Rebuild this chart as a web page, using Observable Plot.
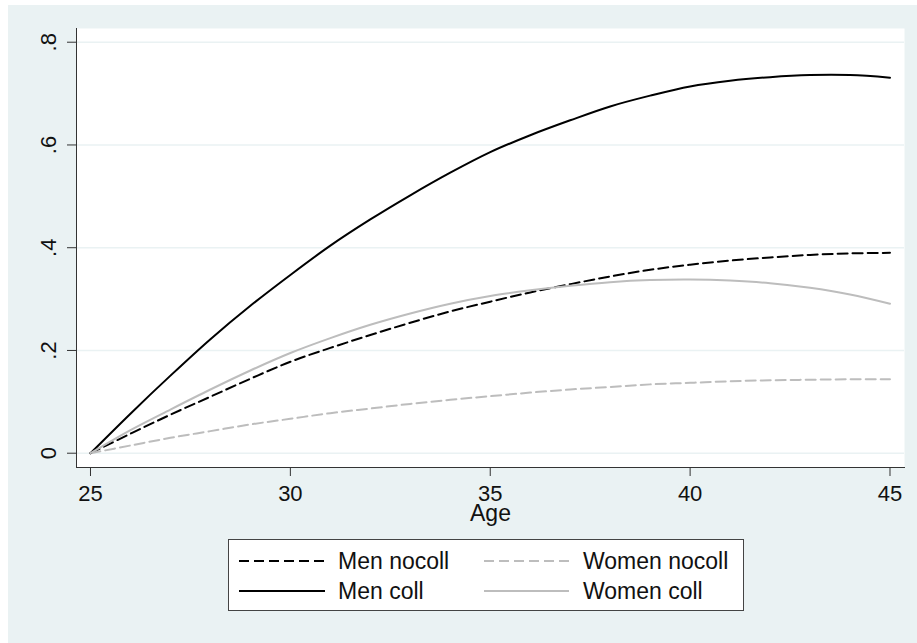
<!DOCTYPE html>
<html>
<head>
<meta charset="utf-8">
<script src="https://cdn.jsdelivr.net/npm/d3@7"></script>
<script src="https://cdn.jsdelivr.net/npm/@observablehq/plot@0.6"></script>
<style>
  html, body { margin: 0; padding: 0; background: #ffffff; width: 917px; height: 643px; overflow: hidden; }
  #bg { position: absolute; left: 8px; top: 5px; right: 0; bottom: 0; background: #EAF2F3; }
  #chart { position: absolute; left: 0; top: 0; }
  #legend { position: absolute; left: 228px; top: 539px; width: 514px; height: 70px; background: #fff; border: 1px solid #444; box-sizing: content-box; }
  #legend svg { position: absolute; left: 0; top: 0; }
</style>
</head>
<body>
<div id="bg"></div>
<div id="chart"></div>
<div id="legend"></div>
<script>
const ages = [25,26,27,28,29,30,31,32,33,34,35,36,37,38,39,40,41,42,43,44,45];
const menNocoll   = [0,0.038,0.075,0.110,0.145,0.178,0.205,0.230,0.254,0.276,0.295,0.313,0.329,0.344,0.357,0.367,0.375,0.381,0.386,0.389,0.390];
const menColl     = [0,0.077,0.151,0.222,0.287,0.347,0.404,0.455,0.502,0.546,0.586,0.619,0.648,0.675,0.696,0.714,0.725,0.732,0.736,0.736,0.731];
const womenNocoll = [0,0.015,0.030,0.043,0.056,0.067,0.078,0.087,0.096,0.104,0.111,0.118,0.124,0.129,0.134,0.137,0.140,0.142,0.143,0.144,0.144];
const womenColl   = [0,0.045,0.085,0.124,0.161,0.195,0.224,0.250,0.272,0.291,0.306,0.317,0.326,0.333,0.337,0.338,0.336,0.331,0.322,0.309,0.291];

const seriesNames = ["Men nocoll", "Women nocoll", "Men coll", "Women coll"];
const xTicks = [25,30,35,40,45];
const yTicks = [0,0.2,0.4,0.6,0.8];
const yTickLabels = ["0",".2",".4",".6",".8"];

const styles = {
  "Men nocoll":   {stroke: "#000000", dash: "10,5"},
  "Women nocoll": {stroke: "#bdbdbd", dash: "10,5"},
  "Men coll":     {stroke: "#000000", dash: null},
  "Women coll":   {stroke: "#bdbdbd", dash: null}
};
const valuesBy = {"Men nocoll": menNocoll, "Women nocoll": womenNocoll, "Men coll": menColl, "Women coll": womenColl};

const font = "'Liberation Sans', Arial, Helvetica, sans-serif";

const lineMarks = seriesNames.map(name => {
  const data = ages.map((a, i) => ({age: a, v: valuesBy[name][i]}));
  return Plot.line(data, {
    x: "age", y: "v",
    stroke: styles[name].stroke,
    strokeWidth: 2,
    strokeDasharray: styles[name].dash,
    curve: "catmull-rom"
  });
});

const chart = Plot.plot({
  width: 917,
  height: 530,
  marginLeft: 76,
  marginRight: 13,
  marginTop: 28,
  marginBottom: 63,
  style: {background: "transparent", fontFamily: font, fontSize: "22px", color: "#111", overflow: "visible"},
  x: {domain: [24.65, 45.363], ticks: xTicks},
  y: {domain: [-0.0278, 0.8267], ticks: yTicks},
  marks: [
    Plot.frame({fill: "#ffffff", stroke: null}),
    Plot.ruleY(yTicks, {stroke: "#EAF2F3", strokeWidth: 1.5}),
    ...lineMarks,
    Plot.frame({anchor: "left", stroke: "#333"}),
    Plot.frame({anchor: "bottom", stroke: "#333"}),
    Plot.axisX({ticks: xTicks, tickSize: 9, tickPadding: 9, stroke: "#333", fontSize: 22, fill: "#111", label: null, tickFormat: d => String(d)}),
    Plot.axisY({ticks: yTicks, tickSize: 9, stroke: "#333", label: null, tickFormat: () => ""}),
    Plot.text(yTicks, {y: d => d, frameAnchor: "left", dx: -21, rotate: -90, text: (d, i) => yTickLabels[i], textAnchor: "middle", lineAnchor: "bottom", fontSize: 22, fill: "#111"}),
    Plot.text(["Age"], {frameAnchor: "bottom", dy: 53, text: d => d, lineAnchor: "bottom", fontSize: 23, fill: "#111"})
  ]
});
document.getElementById("chart").appendChild(chart);

// Legend
const legendOrder = [["Men nocoll", "Women nocoll"], ["Men coll", "Women coll"]];
const lg = d3.select("#legend").append("svg").attr("width", 514).attr("height", 70)
  .style("font-family", font).style("font-size", "23px");
const colX = [[10, 96, 109], [255, 340, 354]];
const rowY = [21, 51];
legendOrder.forEach((row, r) => {
  row.forEach((name, c) => {
    const s = styles[name];
    lg.append("line").attr("x1", colX[c][0]).attr("x2", colX[c][1]).attr("y1", rowY[r]).attr("y2", rowY[r])
      .attr("stroke", s.stroke).attr("stroke-width", 2).attr("stroke-dasharray", s.dash);
    lg.append("text").attr("x", colX[c][2]).attr("y", rowY[r]).attr("dy", "0.36em").attr("fill", "#111").text(name);
  });
});
</script>
</body>
</html>
